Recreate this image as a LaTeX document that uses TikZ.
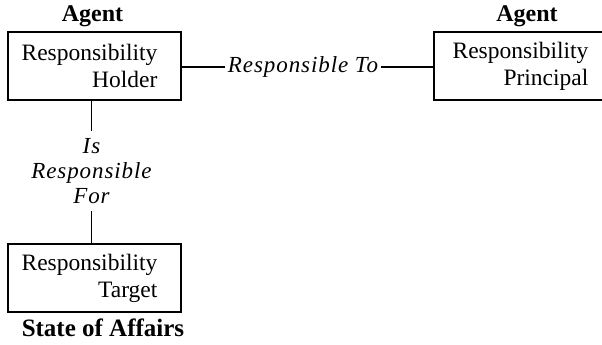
\documentclass[tikz,border=0pt]{standalone}
\usepackage{fontspec}
\setmainfont{Liberation Serif}
\newcommand{\padr}{\hspace*{10pt}}
\begin{document}
\begin{tikzpicture}[x=1pt,y=1pt,
  box/.style={draw, line width=1.8pt, minimum width=173pt, minimum height=68pt,
    align=right, font=\fontsize{23.5}{27}\selectfont, inner sep=0pt},
  role/.style={font=\fontsize{24}{26}\bfseries\selectfont, inner sep=0pt},
  rel/.style={font=\fontsize{23}{25}\itshape\addfontfeatures{LetterSpace=4}\selectfont,
    align=center, inner sep=3pt},
  conn/.style={line width=1.8pt}]
  \useasboundingbox (0,0) rectangle (602,345);
  % the three parties
  \node[box] (holder) at (94.5,279) {Responsibility\padr\\Holder\padr};
  \node[box] (principal) at (520.5,279) {Responsibility\\Principal};
  \node[box] (target) at (94.5,67) {Responsibility\padr\\Target\padr};
  % their categories
  \node[role] (ag1) at (92.5,329) {Agent};
  \node[role] (ag2) at (527,329) {Agent};
  \node[role, font=\fontsize{25}{27}\bfseries\selectfont] (soa) at (103,17) {State of Affairs};
  % relations
  \node[rel] (rto) at (303,278) {Responsible To};
  \node[rel, inner ysep=7pt] (rfor) at (91.5,174) {Is\\Responsible\\For};
  \draw[conn] (holder.east |- rto.west) -- (rto.west);
  \draw[conn] (rto.east) -- (principal.west |- rto.east);
  \draw[conn] (holder.south -| rfor.north) -- (rfor.north);
  \draw[conn] (rfor.south) -- (target.north -| rfor.south);
\end{tikzpicture}
\end{document}
